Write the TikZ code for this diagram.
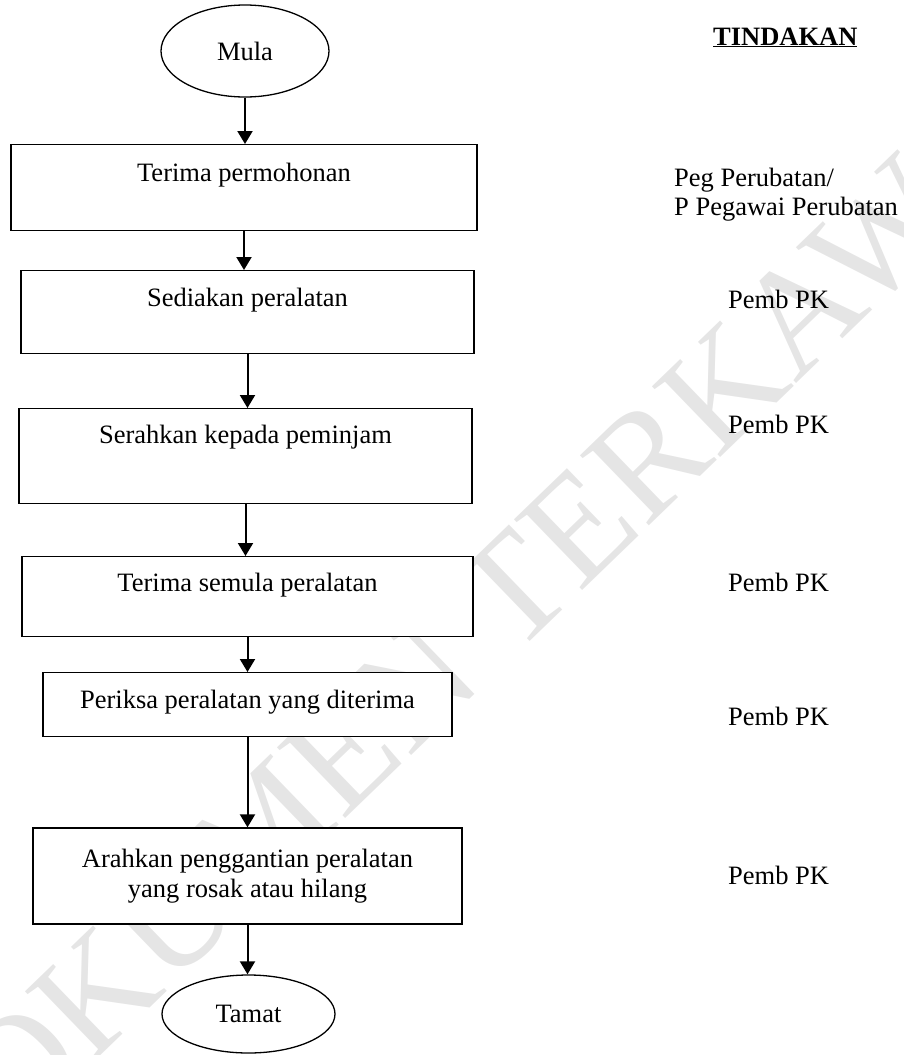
\documentclass[tikz,border=0pt]{standalone}
\usepackage{fontspec}
\setmainfont{Liberation Serif}
\usetikzlibrary{shapes.geometric,arrows.meta}
\begin{document}
\begin{tikzpicture}[x=1pt,y=-1pt,
  txt/.style={font=\fontsize{26.5}{30}\selectfont},
  box/.style={txt, draw, fill=white, line width=1.3pt, inner sep=0pt, anchor=north},
  term/.style={txt, draw, fill=white, ellipse, line width=1.3pt, inner sep=0pt},
  arr/.style={line width=2pt, -{Triangle[width=15pt,length=13pt]}},
  lbl/.style={txt, anchor=base west, inner sep=0pt},
  wmark/.style={text=black!10, font=\fontsize{150}{150}\selectfont, inner sep=0pt}]
\useasboundingbox (0,0) rectangle (904,1055);
% watermark
\node[wmark, rotate=44] (wm) at (483,619) {DOKUMEN TERKAWAL};
% terminals
\node[term, minimum width=168pt, minimum height=92pt] (mula) at (245,51) {Mula};
\node[term, minimum width=173pt, minimum height=78pt] (tamat) at (248.5,1014) {Tamat};
% process boxes
\node[box, minimum width=466pt, text height=37pt, text depth=49pt] (b1) at (244,144) {Terima permohonan};
\node[box, minimum width=453pt, text height=36pt, text depth=47pt] (b2) at (247.5,270) {Sediakan peralatan};
\node[box, minimum width=453pt, text height=35pt, text depth=60pt] (b3) at (245.5,408) {Serahkan kepada peminjam};
\node[box, minimum width=451pt, text height=35pt, text depth=45pt] (b4) at (247.5,556) {Terima semula peralatan};
\node[box, minimum width=409pt, text height=36pt, text depth=28pt] (b5) at (247.5,672) {Periksa peralatan yang diterima};
\node[box, anchor=center, align=center, minimum width=429pt, minimum height=96pt] (b6) at (247.5,876) {Arahkan penggantian peralatan\\yang rosak atau hilang};
% connectors
\draw[arr] (mula.south) -- (mula.south |- b1.north);
\draw[arr] (b1.south) -- (b1.south |- b2.north);
\draw[arr] (b2.south) -- (b2.south |- b3.north);
\draw[arr] (b3.south) -- (b3.south |- b4.north);
\draw[arr] (b4.south) -- (b4.south |- b5.north);
\draw[arr] (b5.south) -- (b5.south |- b6.north);
\draw[arr] (b6.south) -- (b6.south |- tamat.north);
% action column
\node[lbl, font=\fontsize{26.5}{30}\selectfont\bfseries] (tind) at (713,45) {\underline{TINDAKAN}};
\node[lbl] (peg1) at (674,186) {Peg Perubatan/};
\node[lbl] (peg2) at (674,215) {P Pegawai Perubatan};
\node[lbl] (pk1) at (728,308) {Pemb PK};
\node[lbl] (pk2) at (728,433) {Pemb PK};
\node[lbl] (pk3) at (728,591) {Pemb PK};
\node[lbl] (pk4) at (728,725) {Pemb PK};
\node[lbl] (pk5) at (728,884) {Pemb PK};
\end{tikzpicture}
\end{document}
